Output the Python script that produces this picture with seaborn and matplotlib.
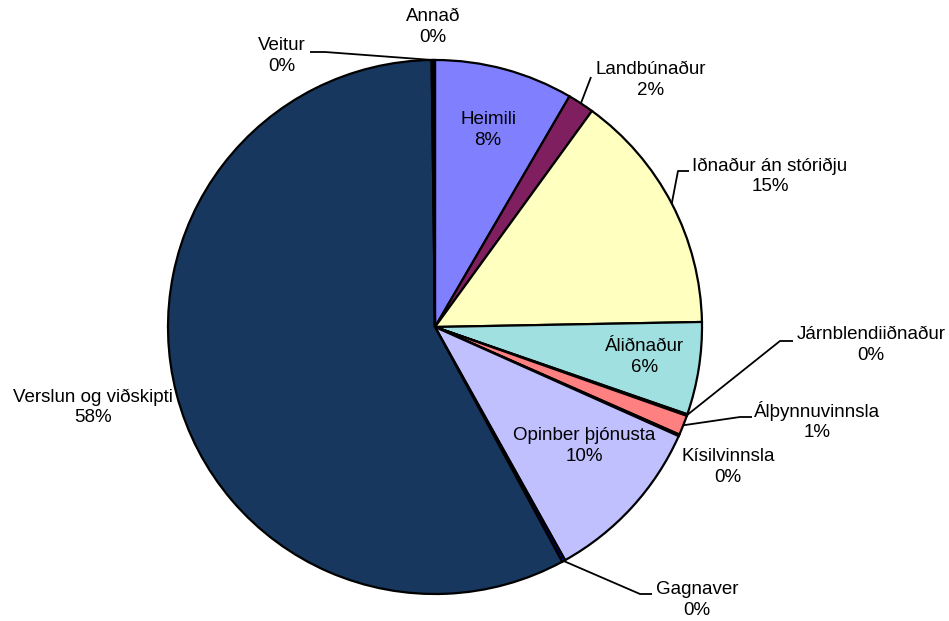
import numpy as np
import matplotlib.pyplot as plt
import seaborn as sns

# raforkunotkun eftir geirum (hlutföll lesin af mynd)
categories = ["Heimili", "Landbúnaður", "Iðnaður án stóriðju", "Áliðnaður",
              "Járnblendiiðnaður", "Álþynnuvinnsla", "Kísilvinnsla",
              "Opinber þjónusta", "Gagnaver", "Verslun og viðskipti",
              "Veitur", "Annað"]
shares = [8.4, 1.6, 14.7, 5.6, 0.1, 1.2, 0.1, 10.2, 0.2, 57.7, 0.1, 0.1]
colors = ["#8080FF", "#7F1F5F", "#FFFFC0", "#A0E0E0", "#333399", "#FF8080",
          "#00CCFF", "#C0C0FF", "#000080", "#17375E", "#800080", "#FF00FF"]

sns.set_theme(style="white")
plt.rcParams['font.family'] = ['Liberation Sans', 'DejaVu Sans']

W, H = 949, 621
CX, CY, R = 435, 327, 267


def px(x, y):
    return (x - CX) / R, (CY - y) / R


fig = plt.figure(figsize=(W / 100, H / 100), dpi=100)
ax = fig.add_axes([0, 0, 1, 1])
wedges, _ = ax.pie(shares, colors=colors, startangle=90, counterclock=False,
                   radius=1, wedgeprops=dict(edgecolor="black", linewidth=1.6))
ax.set_xlim(-CX / R, (W - CX) / R)
ax.set_ylim(-(H - CY) / R, CY / R)
ax.set_aspect("equal", adjustable="box")
ax.axis("off")

# label layout: text centre in pixels, leader line points (None = no line)
layout = {
    "Heimili": ((488, 130), None),
    "Landbúnaður": ((651, 80), [(591, 77)]),
    "Iðnaður án stóriðju": ((770, 176), [(678, 171), (689, 171)]),
    "Áliðnaður": ((645, 357), None),
    "Járnblendiiðnaður": ((871, 345), [(780, 341), (793, 341)]),
    "Álþynnuvinnsla": ((817, 421), [(740, 417), (752, 417)]),
    "Kísilvinnsla": ((728, 467), None),
    "Opinber þjónusta": ((584, 446), None),
    "Gagnaver": ((697, 600), [(640, 594), (652, 594)]),
    "Verslun og viðskipti": ((93, 407), None),
    "Veitur": ((282, 56), [(325, 52), (310, 52)]),
    "Annað": ((433, 27), None),
}

total = sum(shares)
for w, name, val in zip(wedges, categories, shares):
    (tx, ty), leader = layout[name]
    ax.text(*px(tx, ty), f"{name}\n{val / total * 100:.0f}%", ha="center",
            va="center", fontsize=13.5, color="black", linespacing=1.25)
    if leader:
        ang = np.deg2rad((w.theta1 + w.theta2) / 2)
        pts = [(np.cos(ang), np.sin(ang))] + [px(x, y) for x, y in leader]
        xs, ys = zip(*pts)
        ax.plot(xs, ys, color="black", linewidth=1.3, solid_capstyle="butt")

fig.savefig("out.png", dpi=100)
